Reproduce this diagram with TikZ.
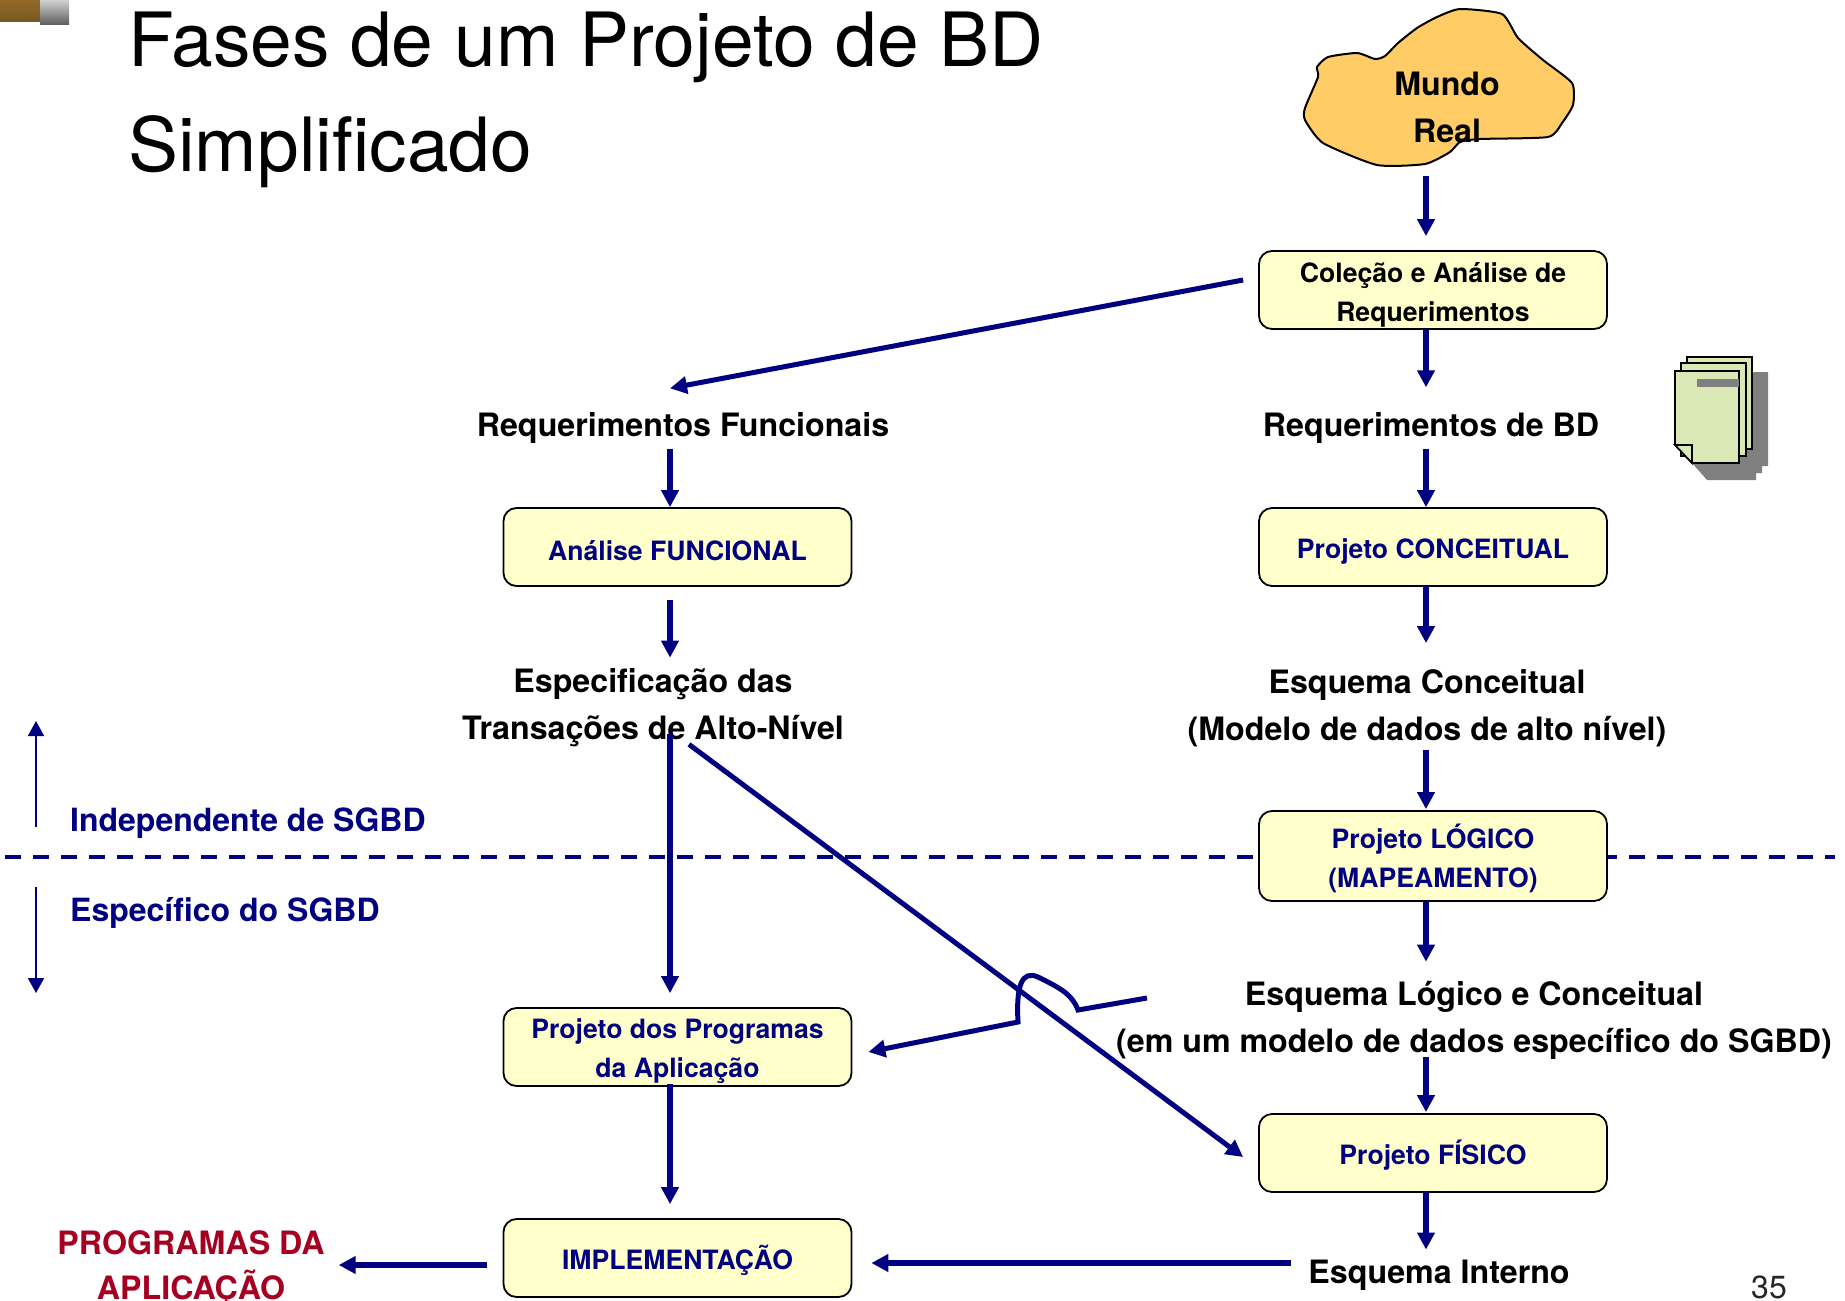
\documentclass[tikz,border=0pt]{standalone}
\usepackage{fontspec}
\setmainfont{TeX Gyre Heros}
\usetikzlibrary{arrows.meta}
\usetikzlibrary{calc}
\definecolor{navy}{HTML}{000080}
\definecolor{boxyellow}{HTML}{FFFFCC}
\definecolor{cloudorange}{HTML}{FFCC66}
\definecolor{pagegreen}{HTML}{D9E8B5}
\definecolor{progred}{HTML}{A50021}
\def\fixline{\rule[-3pt]{0pt}{32pt}}
\begin{document}
\begin{tikzpicture}[x=1pt,y=-1pt,phase/.style={draw=black, line width=1.8pt, fill=boxyellow, rounded corners=13pt, minimum width=348pt, minimum height=78pt, inner sep=0pt, align=center, text=navy, font=\bfseries\fontsize{26.6}{39}\selectfont}]
    \tikzset{doc/.style={inner sep=0pt, align=center, font=\bfseries\fontsize{32.2}{47}\selectfont}}
    \tikzset{flow/.style={draw=navy, line width=5.6pt, -{Triangle[width=17pt,length=17pt]}}}
    \tikzset{slanted/.style={flow, line width=5pt}}
    \tikzset{thinflow/.style={draw=navy, line width=2pt, -{Triangle[width=16pt,length=15pt]}}}
    \tikzset{side/.style={inner sep=0pt, anchor=west, text=navy, font=\bfseries\fontsize{32}{40}\selectfont}}
    \tikzset{sheet/.style={draw=black, line width=1.6pt, fill=pagegreen}}
    \useasboundingbox (0,0) rectangle (1845,1301);
    % corner of the slide
    \shade[top color=black!30!brown!90!yellow, bottom color=black!45!brown!90!yellow] (0,0) rectangle (40,21);
    \shade[top color=black!18, bottom color=black!62] (40,0) rectangle (69,24);
    \node[inner sep=0pt, anchor=west, align=left, font=\fontsize{74.9}{105.7}\selectfont] (title) at (128,100) {Fases de um Projeto de BD\\Simplificado};
    \node[inner sep=0pt, font=\fontsize{32}{36}\selectfont, text=black!85] (page) at (1769,1287) {35};

    % the line between the two halves
    \coordinate (dashl) at (5,857); \coordinate (dashr) at (1835,857);
    \draw[navy, line width=4pt, dash pattern=on 16pt off 12pt] (dashl) -- (dashr);

    % cloud
    \draw[black, line width=2pt, fill=cloudorange] plot[smooth cycle, tension=0.35] coordinates {(1317,67) (1328,57) (1357,53) (1375,59) (1385,56) (1398,43) (1417,28) (1437,17) (1460,9) (1502,14) (1518,38) (1543,60) (1572,83) (1573,105) (1562,123) (1548,137) (1480,139) (1460,142) (1450,152) (1425,164) (1377,165) (1323,143) (1305,120) (1305,108) (1318,77)};
    \node[doc] (mundo) at (1447,107) {Mundo\\Real};

    % stack of pages
    \fill[black!50] (1692,463) -- (1707,480) -- (1756,480) -- (1756,473) -- (1762,473) -- (1762,466) -- (1768,466) -- (1768,372) -- (1740,372) -- (1740,463) -- cycle;
    \draw[sheet] (1687,357) rectangle (1752,449);
    \draw[sheet] (1681,363) rectangle (1746,456);
    \draw[sheet] (1675,371) -- (1739,371) -- (1739,463) -- (1692,463) -- (1675,445) -- cycle;
    \draw[sheet] (1675,445) -- (1692,445) -- (1692,463) -- cycle;
    \fill[black!50] (1697,379) rectangle (1739,387);

    % boxes
    \node[phase, text=black] (coleta) at (1433,290) {\fixline Coleção e Análise de\\\fixline Requerimentos};
    \node[phase] (conceitual) at (1433,547) {\fixline Projeto CONCEITUAL};
    \node[phase, minimum height=90pt] (logico) at (1433,856) {\fixline Projeto LÓGICO\\\fixline (MAPEAMENTO)};
    \node[phase] (fisico) at (1433,1153) {\fixline Projeto FÍSICO};
    \node[phase] (funcional) at (677.5,547) {\fixline Análise FUNCIONAL};
    \node[phase] (programas) at (677.5,1047) {\fixline Projeto dos Programas\\\fixline da Aplicação};
    \node[phase] (implementacao) at (677.5,1258) {\fixline IMPLEMENTAÇÃO};

    % texts
    \node[doc] (reqfunc) at (683,428) {Requerimentos Funcionais};
    \node[doc] (reqbd) at (1431,428) {Requerimentos de BD};
    \node[doc] (especif) at (653,708) {Especificação das\\Transações de Alto-Nível};
    \node[doc] (esqconc) at (1427,708) {Esquema Conceitual\\(Modelo de dados de alto nível)};
    \node[doc] (esqlog) at (1474,1020) {Esquema Lógico e Conceitual\\(em um modelo de dados específico do SGBD)};
    \node[doc] (esqint) at (1439,1275) {Esquema Interno};
    \node[doc, text=progred, font=\bfseries\fontsize{32.2}{45}\selectfont] (aplicacao) at (191,1269) {PROGRAMAS DA\\APLICAÇÃO};
    \node[side] (indep) at (70,823) {Independente de SGBD};
    \node[side] (especifico) at (70,913) {Específico do SGBD};

    % vertical connectors
    \def \colr {1426} \def \coll {670}
    \foreach \a/\b/\c/\s/\e in {mundo/coleta/\colr/33/14, coleta/reqbd/\colr/0/25, reqbd/conceitual/\colr/5/0, conceitual/esqconc/\colr/-1/26, esqconc/logico/\colr/3/1, logico/esqlog/\colr/0/19, esqlog/fisico/\colr/-2/1, fisico/esqint/\colr/-2/10, reqfunc/funcional/\coll/5/0, funcional/especif/\coll/13/11, especif/programas/\coll/-13/14, programas/implementacao/\coll/-3/14} {
    \draw[flow, shorten <=\s pt, shorten >=\e pt] (\a.south -| \c,0) -- (\b.north -| \c,0);
    }

    % the slanted and the horizontal ones
    \draw[slanted] ($(coleta.west)+(-15,-10)$) -- ($(reqfunc.north)+(-13,-24)$);
    \draw[slanted] ($(especif.south)+(36,-3)$) -- ($(fisico.west)+(-15,4)$);
    \draw[slanted] ($(esqlog.west)+(31,-22)$) -- (1078,1010) .. controls (1072,994) and (1060,988) .. (1038,977) .. controls (1022,970) and (1016,985) .. (1018,1022) -- ($(programas.east)+(16,5)$);
    \draw[flow] (esqint.west) ++(-17,-12) -- ($(implementacao.east)+(19,5)$);
    \draw[flow] (implementacao.west) ++(-16,7) -- ($(aplicacao.east)+(14,-4)$);

    % up and down
    \coordinate (upa) at (36,827); \coordinate (upb) at (36,721);
    \coordinate (downa) at (36,887); \coordinate (downb) at (36,993);
    \draw[thinflow] (upa) -- (upb);
    \draw[thinflow] (downa) -- (downb);
\end{tikzpicture}
\end{document}
